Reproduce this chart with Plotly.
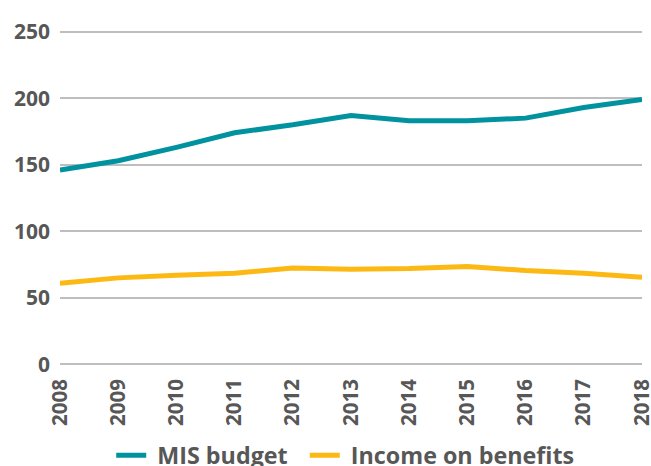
import plotly.graph_objects as go

years = ["2008", "2009", "2010", "2011", "2012", "2013", "2014", "2015", "2016", "2017", "2018"]
mis_budget = [146, 153, 163, 174, 180, 187, 183, 183, 185, 193, 199]
income_on_benefits = [61, 65, 67, 68.5, 72.5, 71.5, 72, 73.5, 70.5, 68.5, 65.5]
y_ticks = [0, 50, 100, 150, 200, 250]

FONT = "Open Sans"
GREY = "#575757"
NB = "\u00a0"

fig = go.Figure()
fig.add_trace(go.Scatter(x=years, y=mis_budget, mode="lines", name=NB + "MIS budget" + NB + NB,
                         line=dict(color="#00929F", width=5)))
fig.add_trace(go.Scatter(x=years, y=income_on_benefits, mode="lines", name=NB + "Income on benefits",
                         line=dict(color="#FDB913", width=5)))

fig.update_layout(
    width=651, height=466,
    margin=dict(l=60, r=9, t=30.4, b=100.4, autoexpand=False),
    plot_bgcolor="white", paper_bgcolor="white",
    font=dict(family=FONT, color=GREY),
    showlegend=True,
    legend=dict(orientation="h", x=0.088, xanchor="left", y=-0.201, yanchor="top",
                font=dict(size=23.3, family=FONT, color=GREY, weight="bold"),
                itemwidth=30, tracegroupgap=0),
)
fig.update_xaxes(type="category", range=[0, 10], tickangle=-90,
                 tickfont=dict(size=20.5, family=FONT, color=GREY, weight="bold"),
                 showgrid=False, zeroline=False, showline=False, ticks="",
                 ticklabelstandoff=8, automargin=False)
fig.update_yaxes(range=[-1.2, 251.2], tickvals=y_ticks,
                 tickfont=dict(size=21, family=FONT, color=GREY, weight="bold"),
                 showgrid=True, gridcolor="#BEBEBE", gridwidth=2, zeroline=False,
                 showline=False, ticks="", ticklabelstandoff=9, automargin=False)

fig.write_html("out.html", config={"displayModeBar": False},
               post_script="document.body.style.margin='0';document.body.style.overflow='hidden';")
